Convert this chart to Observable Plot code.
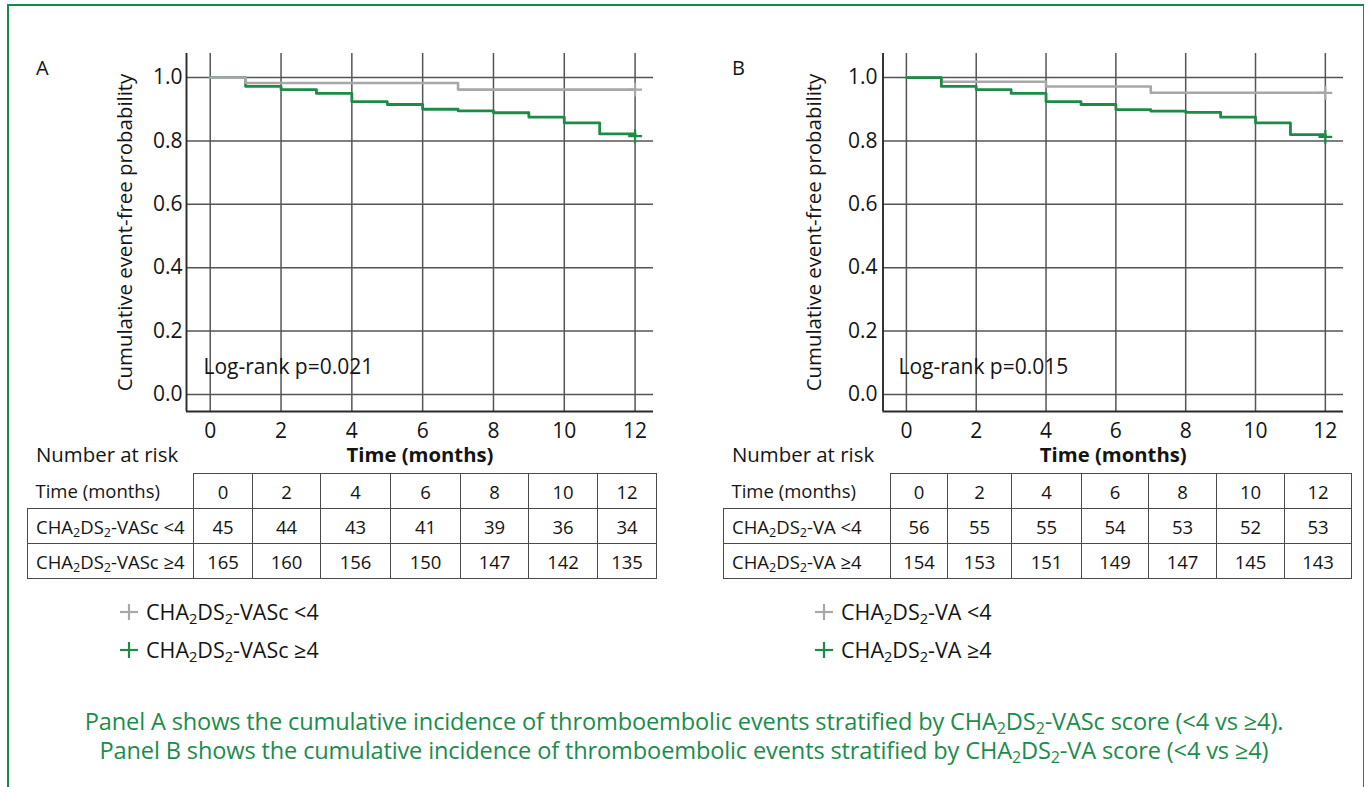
<!DOCTYPE html>
<html><head><meta charset="utf-8">
<script src="https://cdn.jsdelivr.net/npm/d3@7"></script>
<script src="https://cdn.jsdelivr.net/npm/@observablehq/plot@0.6"></script>
<style>
body{margin:0;background:#fff;font-family:"Open Sans",sans-serif;color:#141414;}
#root{position:relative;width:1368px;height:787px;overflow:hidden;background:#fff;}
.frameline{position:absolute;left:7px;top:4px;width:1357px;height:820px;border-top:2.5px solid #17894a;border-left:2px solid #17894a;border-right:1.5px solid #17894a;box-sizing:border-box;}
.abs{position:absolute;}
.panel-letter{font-size:20px;line-height:20px;}
.nar{font-size:20.4px;line-height:20px;}
table.risk{position:absolute;border-collapse:collapse;table-layout:fixed;font-size:18.5px;}
table.risk td{border:1.3px solid #4a4a4a;height:34px;padding:0;text-align:center;white-space:nowrap;}
table.risk td.lab{text-align:left;padding-left:8px;}
table.risk td.blank{border-top:none;border-left:none;}
.legend{font-size:21.5px;line-height:22px;white-space:nowrap;}
.legend .row{display:flex;align-items:center;height:22px;}
.legend svg{margin-right:7px;}
.caption{position:absolute;left:0;width:1368px;text-align:center;color:#1c8c4c;font-size:23.6px;line-height:29px;letter-spacing:-0.15px;white-space:nowrap;}
sub{font-size:0.68em;vertical-align:-0.25em;line-height:0;}
</style>
</head><body><div id="root"><div class="frameline"></div></div>
<script>
// ---------- data ----------
const timePoints = [0, 2, 4, 6, 8, 10, 12];
const yTicks = [0, 0.2, 0.4, 0.6, 0.8, 1.0];

// Panel A (CHA2DS2-VASc)
const aLowTimes  = [0, 1, 7, 12];
const aLowSurv   = [1.000, 0.983, 0.962, 0.962];
const aHighTimes = [0, 1, 2, 3, 4, 5, 6, 7, 8, 9, 10, 11, 12];
const aHighSurv  = [1.000, 0.972, 0.962, 0.950, 0.924, 0.915, 0.900, 0.895, 0.889, 0.875, 0.857, 0.822, 0.815];
const aRiskLow   = [45, 44, 43, 41, 39, 36, 34];
const aRiskHigh  = [165, 160, 156, 150, 147, 142, 135];
const aPValue    = "Log-rank p=0.021";

// Panel B (CHA2DS2-VA)
const bLowTimes  = [0, 1, 4, 7, 12];
const bLowSurv   = [1.000, 0.987, 0.972, 0.952, 0.952];
const bHighTimes = [0, 1, 2, 3, 4, 5, 6, 7, 8, 9, 10, 11, 12];
const bHighSurv  = [1.000, 0.972, 0.962, 0.950, 0.924, 0.915, 0.899, 0.894, 0.890, 0.875, 0.857, 0.820, 0.813];
const bRiskLow   = [56, 55, 55, 54, 53, 52, 53];
const bRiskHigh  = [154, 153, 151, 149, 147, 145, 143];
const bPValue    = "Log-rank p=0.015";

const scoreA = "CHA<sub>2</sub>DS<sub>2</sub>-VASc";
const scoreB = "CHA<sub>2</sub>DS<sub>2</sub>-VA";
const groupLow = "&lt;4", groupHigh = "≥4";
const yLabel = "Cumulative event-free probability";
const xLabel = "Time (months)";
const captionLines = [
  "Panel A shows the cumulative incidence of thromboembolic events stratified by CHA<sub>2</sub>DS<sub>2</sub>-VASc score (&lt;4 vs ≥4).",
  "Panel B shows the cumulative incidence of thromboembolic events stratified by CHA<sub>2</sub>DS<sub>2</sub>-VA score (&lt;4 vs ≥4)"
];

// ---------- style ----------
const GREEN = "#1e8a47", GRAY = "#a8a8a8", GRID = "#555", AXIS = "#2a2a2a", INK = "#141414";
const xDomain = [-0.67, 12.52], yDomain = [-0.054, 1.076];
const root = document.getElementById("root");

function series(times, surv, group) { return times.map((t, i) => ({t, s: surv[i], group})); }

function panel({low, high, pText, greenOnTop, left, width, marginLeft, marginRight, ylabDx, ytickPad, lrDx}) {
  const lowLine = Plot.line(low, {x: "t", y: "s", curve: "step-after", stroke: GRAY, strokeWidth: 2.6});
  const highLine = Plot.line(high, {x: "t", y: "s", curve: "step-after", stroke: GREEN, strokeWidth: 2.8});
  const ends = [ {...low[low.length - 1], c: GRAY}, {...high[high.length - 1], c: GREEN} ];
  const svg = Plot.plot({
    width, height: 470, marginTop: 53, marginBottom: 59, marginLeft, marginRight,
    x: {domain: xDomain}, y: {domain: yDomain},
    style: {fontFamily: "'Open Sans', sans-serif", color: INK, background: "transparent", overflow: "visible"},
    marks: [
      Plot.ruleX(timePoints, {stroke: GRID, strokeWidth: 1.5}),
      Plot.ruleY(yTicks, {stroke: GRID, strokeWidth: 1.5}),
      Plot.ruleX([xDomain[0]], {stroke: AXIS, strokeWidth: 1.9}),
      Plot.ruleY([yDomain[0]], {stroke: AXIS, strokeWidth: 1.9}),
      Plot.axisX(timePoints, {tickSize: 0, tickPadding: 12, fontSize: 21, label: null, tickFormat: d => String(d), fill: INK}),
      Plot.axisY(yTicks, {tickSize: 0, tickPadding: ytickPad, fontSize: 21, label: null, tickFormat: d3.format(".1f"), fill: INK}),
      ...(greenOnTop ? [lowLine, highLine] : [highLine, lowLine]),
      Plot.dot(ends, {x: "t", y: "s", symbol: "plus", r: 4.5, stroke: "c", strokeWidth: 2.2}),
      Plot.text([pText], {frameAnchor: "bottom-left", dx: lrDx, dy: -44, textAnchor: "start", lineAnchor: "middle", fontSize: 21, fill: INK}),
      Plot.text([yLabel], {frameAnchor: "left", rotate: -90, dx: ylabDx, textAnchor: "middle", lineAnchor: "middle", fontSize: 20.4, fill: INK}),
      Plot.text([xLabel], {frameAnchor: "bottom", dy: 44, textAnchor: "middle", lineAnchor: "middle", fontSize: 20.3, fontWeight: "bold", fill: INK})
    ]
  });
  svg.style.position = "absolute"; svg.style.left = left + "px"; svg.style.top = "0px";
  root.appendChild(svg);
}

panel({low: series(aLowTimes, aLowSurv, "low"), high: series(aHighTimes, aHighSurv, "high"), pText: aPValue,
  greenOnTop: false, left: 0, width: 690, marginLeft: 186, marginRight: 37, ylabDx: -61, ytickPad: 4, lrDx: 17});
panel({low: series(bLowTimes, bLowSurv, "low"), high: series(bHighTimes, bHighSurv, "high"), pText: bPValue,
  greenOnTop: true, left: 696, width: 672, marginLeft: 186.5, marginRight: 25, ylabDx: -69, ytickPad: 5.5, lrDx: 15.5});

function addDiv(cls, html, left, top) {
  const d = document.createElement("div"); d.className = "abs " + cls; d.innerHTML = html;
  d.style.left = left + "px"; d.style.top = top + "px"; root.appendChild(d); return d;
}
addDiv("panel-letter", "A", 36, 58);
addDiv("panel-letter", "B", 732, 58);
addDiv("nar", "Number at risk", 36, 444);
addDiv("nar", "Number at risk", 732, 444);

function riskTable(left, widths, score, lowRisk, highRisk) {
  const t = document.createElement("table"); t.className = "risk";
  t.style.left = left + "px"; t.style.top = "473px";
  const cg = document.createElement("colgroup");
  widths.forEach(w => { const c = document.createElement("col"); c.style.width = w + "px"; cg.appendChild(c); });
  t.appendChild(cg);
  const rows = [
    ["Time (months)", timePoints],
    [score + " " + groupLow, lowRisk],
    [score + " " + groupHigh, highRisk]
  ];
  rows.forEach((r, i) => {
    const tr = document.createElement("tr");
    const th = document.createElement("td"); th.className = "lab" + (i === 0 ? " blank" : ""); th.innerHTML = r[0]; tr.appendChild(th);
    r[1].forEach(v => { const td = document.createElement("td"); td.textContent = v; tr.appendChild(td); });
    t.appendChild(tr);
  });
  t.style.width = widths.reduce((a, b) => a + b, 0) + "px";
  root.appendChild(t);
}
riskTable(27, [166, 59, 68, 70, 70, 68, 69, 59], scoreA, aRiskLow, aRiskHigh);
riskTable(723, [167, 57, 64, 70, 67, 68, 68, 67], scoreB, bRiskLow, bRiskHigh);

function plusIcon(color) {
  return `<svg width="20" height="20" viewBox="0 0 20 20"><line x1="1" y1="10" x2="19" y2="10" stroke="${color}" stroke-width="2.2"/><line x1="10" y1="2" x2="10" y2="18" stroke="${color}" stroke-width="2.2"/></svg>`;
}
function legend(left, score) {
  const d = addDiv("legend", "", left, 601);
  d.innerHTML = `<div class="row">${plusIcon(GRAY)}<span>${score} ${groupLow}</span></div>` +
                `<div class="row" style="margin-top:16px">${plusIcon(GREEN)}<span>${score} ${groupHigh}</span></div>`;
}
legend(119, scoreA);
legend(814, scoreB);

captionLines.forEach((txt, i) => {
  const d = document.createElement("div"); d.className = "caption"; d.innerHTML = txt;
  d.style.top = (707 + i * 29) + "px"; root.appendChild(d);
});
</script>
</body></html>
